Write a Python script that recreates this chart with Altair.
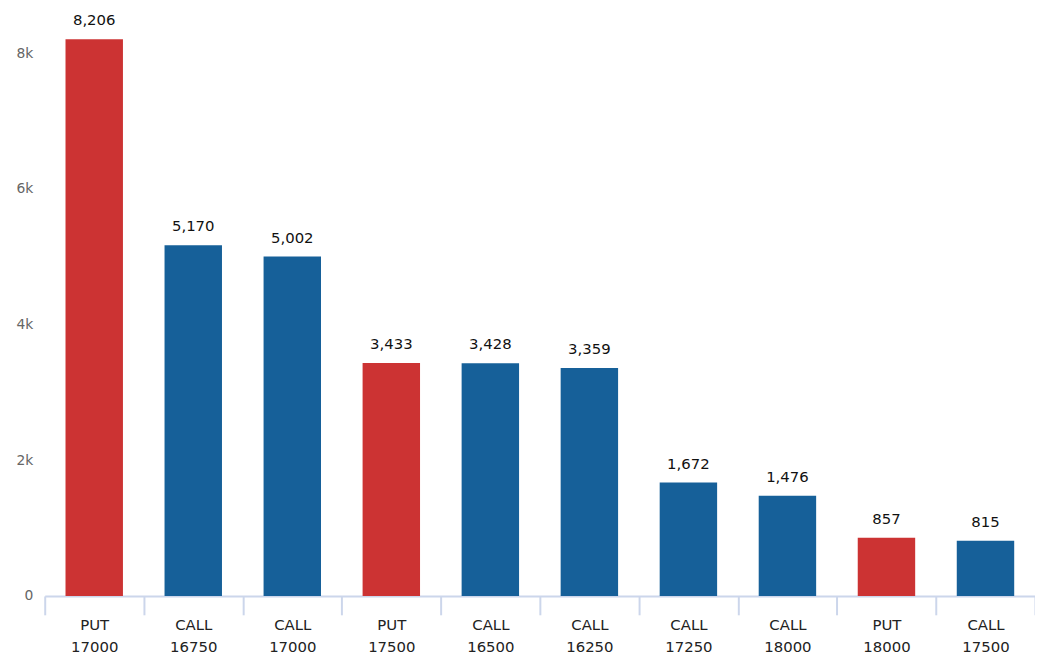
import altair as alt
import pandas as pd

types = ["PUT", "CALL", "CALL", "PUT", "CALL", "CALL", "CALL", "CALL", "PUT", "CALL"]
strikes = ["17000", "16750", "17000", "17500", "16500", "16250", "17250", "18000", "18000", "17500"]
values = [8206, 5170, 5002, 3433, 3428, 3359, 1672, 1476, 857, 815]

df = pd.DataFrame({
    "cat": [f"{t}|{s}" for t, s in zip(types, strikes)],
    "type": types,
    "value": values,
})
df["label"] = df["value"].map(lambda v: f"{v:,}")

FONT = "DejaVu Sans"

x = alt.X(
    "cat:N",
    sort=None,
    title=None,
    scale=alt.Scale(paddingInner=0, paddingOuter=0),
    axis=alt.Axis(
        labelAngle=0,
        labelExpr="datum.value ? split(datum.value, '|') : ''",
        labelFont=FONT,
        labelFontSize=15,
        labelColor="#222222",
        labelLineHeight=22,
        labelPadding=3,
        tickBand="extent",
        tickSize=19,
        tickColor="#ccd6eb",
        tickWidth=2,
        domainColor="#ccd6eb",
        domainWidth=2,
        grid=False,
    ),
)

y = alt.Y(
    "value:Q",
    title=None,
    scale=alt.Scale(domain=[0, 8540], nice=False),
    axis=alt.Axis(
        values=[0, 2000, 4000, 6000, 8000],
        labelExpr="datum.value == 0 ? '0' : (datum.value / 1000) + 'k'",
        labelFont=FONT,
        labelFontSize=14,
        labelColor="#666666",
        labelPadding=12,
        ticks=False,
        domain=False,
        grid=False,
    ),
)

bars = alt.Chart(df).mark_bar(width={"band": 0.58}).encode(
    x=x,
    y=y,
    color=alt.Color(
        "type:N",
        scale=alt.Scale(domain=["PUT", "CALL"], range=["#cc3333", "#166099"]),
        legend=None,
    ),
)

text = alt.Chart(df).mark_text(
    baseline="bottom", dy=-11, font=FONT, fontSize=15, color="#111111"
).encode(x=alt.X("cat:N", sort=None), y="value:Q", text="label:N")

chart = (
    alt.layer(bars, text)
    .properties(
        width=998,
        height=584,
        autosize=alt.AutoSizeParams(type="none"),
        padding={"left": 37, "top": 6, "right": 0, "bottom": 60},
    )
    .configure_view(stroke=None)
)

chart.save("out.html", embed_options={"renderer": "svg", "actions": False})
